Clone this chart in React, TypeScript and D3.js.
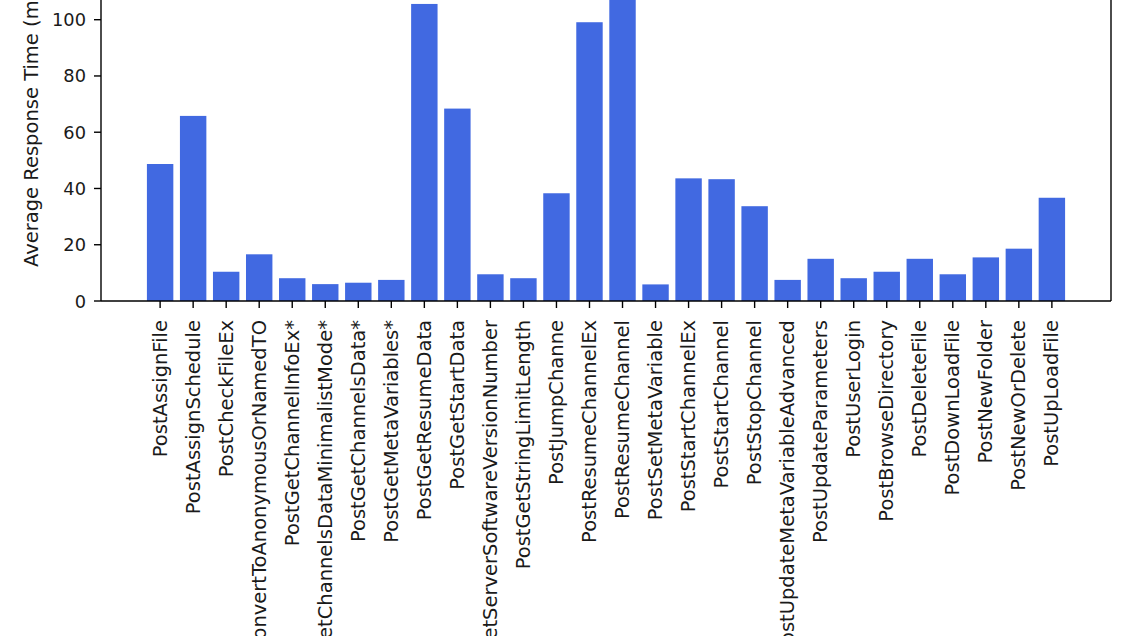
import React from "react";
import * as d3 from "d3";

const categories: string[] = [
  "PostAssignFile",
  "PostAssignSchedule",
  "PostCheckFileEx",
  "PostConvertToAnonymousOrNamedTO",
  "PostGetChannelInfoEx*",
  "PostGetChannelsDataMinimalistMode*",
  "PostGetChannelsData*",
  "PostGetMetaVariables*",
  "PostGetResumeData",
  "PostGetStartData",
  "PostGetServerSoftwareVersionNumber",
  "PostGetStringLimitLength",
  "PostJumpChanne",
  "PostResumeChannelEx",
  "PostResumeChannel",
  "PostSetMetaVariable",
  "PostStartChannelEx",
  "PostStartChannel",
  "PostStopChannel",
  "PostUpdateMetaVariableAdvanced",
  "PostUpdateParameters",
  "PostUserLogin",
  "PostBrowseDirectory",
  "PostDeleteFile",
  "PostDownLoadFile",
  "PostNewFolder",
  "PostNewOrDelete",
  "PostUpLoadFile",
];

const responseTimes: number[] = [
  48.7, 65.8, 10.4, 16.6, 8.1, 6.0, 6.5, 7.5, 105.6, 68.4, 9.5, 8.1, 38.3, 99.1,
  110.0, 5.9, 43.6, 43.3, 33.7, 7.5, 15.0, 8.1, 10.4, 15.0, 9.5, 15.5, 18.6, 36.7,
];

const yTicks: number[] = [0, 20, 40, 60, 80, 100];
const yLabel = "Average Response Time (ms)";

const W = 1132;
const H = 636;
const FONT = "DejaVu Sans, sans-serif";

export default function App() {
  const left = 101;
  const right = 1111;
  const bottom = 301;
  const n = categories.length;
  const yMax = d3.max(responseTimes)! * 1.05;
  const pxPerUnit = 2.813;
  const top = bottom - yMax * pxPerUnit;

  const x = d3
    .scaleLinear()
    .domain([-0.4 - 0.05 * (n - 0.2), n - 1 + 0.4 + 0.05 * (n - 0.2)])
    .range([left, right]);
  const y = d3.scaleLinear().domain([0, yMax]).range([bottom, top]);
  const bw = x(0.8) - x(0);
  const tickLen = 7;
  const fsH = 17.8;
  const fsV = 19.5;
  const textColor = "#1a1a1a";

  return (
    <svg
      width={W}
      height={H}
      style={{ position: "absolute", left: 0, top: 0, background: "#fff" }}
      fontFamily={FONT}
    >
      <rect x={0} y={0} width={W} height={H} fill="#fff" />
      {responseTimes.map((v, i) => (
        <rect
          key={categories[i]}
          x={x(i) - bw / 2}
          y={y(v)}
          width={bw}
          height={y(0) - y(v)}
          fill="#4169E1"
        />
      ))}
      {/* spines */}
      <line x1={left} x2={left} y1={top} y2={bottom} stroke="#000" strokeWidth={1.4} />
      <line x1={right} x2={right} y1={top} y2={bottom} stroke="#000" strokeWidth={1.4} />
      <line x1={left} x2={right} y1={bottom} y2={bottom} stroke="#000" strokeWidth={1.4} />
      <line x1={left} x2={right} y1={top} y2={top} stroke="#000" strokeWidth={1.4} />
      {/* y ticks */}
      {yTicks.map((t) => (
        <g key={t}>
          <line x1={left - tickLen} x2={left} y1={y(t)} y2={y(t)} stroke="#000" strokeWidth={1.4} />
          <text
            x={left - tickLen - 8}
            y={y(t)}
            textAnchor="end"
            dominantBaseline="central"
            fontSize={fsH}
            fill={textColor}
          >
            {t}
          </text>
        </g>
      ))}
      {/* x ticks */}
      {categories.map((c, i) => (
        <g key={c}>
          <line x1={x(i)} x2={x(i)} y1={bottom} y2={bottom + tickLen} stroke="#000" strokeWidth={1.4} />
          <text
            transform={`translate(${x(i)},${bottom + tickLen + 12}) rotate(-90)`}
            textAnchor="end"
            dominantBaseline="central"
            fontSize={fsV}
            fill={textColor}
          >
            {c}
          </text>
        </g>
      ))}
      {/* y label */}
      <text
        transform={`translate(37.5,267) rotate(-90)`}
        textAnchor="start"
        fontSize={fsV}
        fill={textColor}
      >
        {yLabel}
      </text>
    </svg>
  );
}
